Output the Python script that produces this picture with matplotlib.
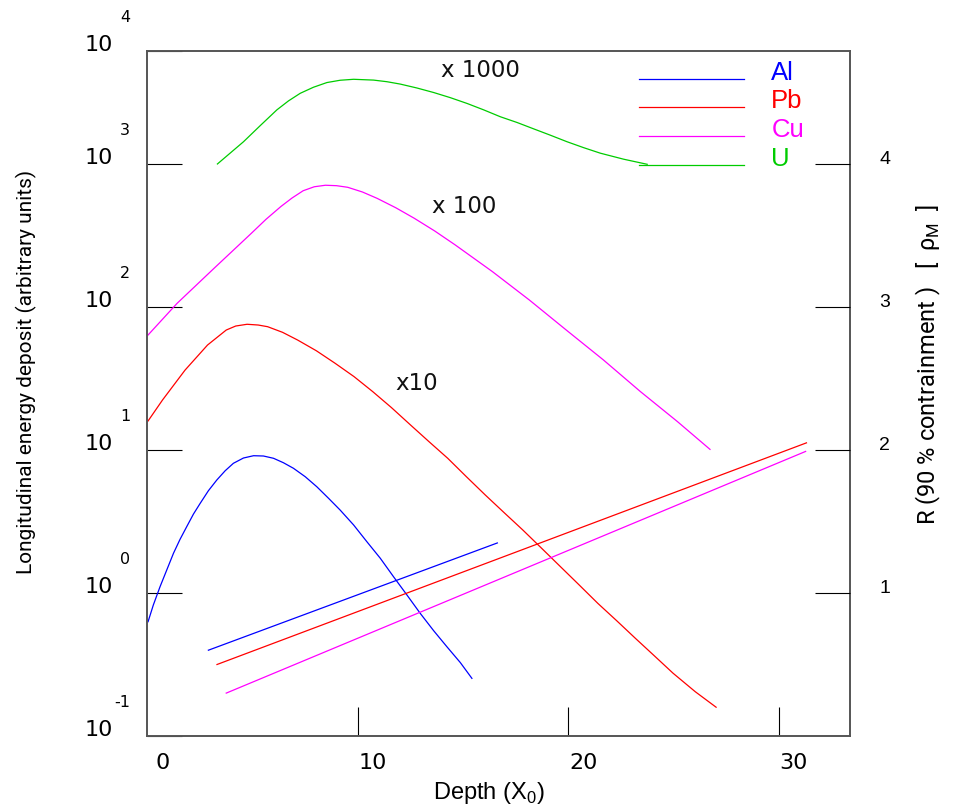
import matplotlib
matplotlib.use('Agg')
import matplotlib.pyplot as plt
import matplotlib.transforms as mtransforms
from matplotlib.ticker import NullLocator

# ---- longitudinal profiles (values before the display scale factor) ----
depth_al = [0.0, 0.25, 0.57, 0.89, 1.21, 1.52, 1.84, 2.16, 2.48, 2.87, 3.27, 3.67, 4.06, 4.54, 5.02,
            5.49, 5.97, 6.44, 6.92, 7.48, 8.03, 8.59, 9.14, 9.78, 10.41, 11.05, 11.68, 12.32, 12.95,
            13.59, 14.22, 14.86, 15.41]
edep_al = [0.630, 0.824, 1.107, 1.449, 1.897, 2.371, 2.911, 3.565, 4.236, 5.188, 6.166, 7.161, 8.072,
           8.790, 9.120, 9.078, 8.750, 8.147, 7.447, 6.501, 5.534, 4.592, 3.802, 2.992, 2.286, 1.750,
           1.300, 0.968, 0.721, 0.545, 0.421, 0.326, 0.253]

depth_pb = [0.0, 0.69, 1.76, 2.83, 3.72, 4.17, 4.71, 5.24, 5.69, 6.40, 7.12, 8.01, 8.90, 9.80, 10.69,
            11.58, 12.48, 13.37, 14.26, 15.15, 16.05, 16.94, 17.83, 18.72, 19.62, 20.51, 21.40, 22.30,
            23.19, 24.08, 24.98, 26.04, 27.03]
edep_pb = [1.596, 2.239, 3.62, 5.42, 6.90, 7.36, 7.57, 7.48, 7.28, 6.65, 5.87, 4.94, 4.04, 3.26, 2.56,
           1.98, 1.50, 1.143, 0.875, 0.650, 0.484, 0.365, 0.276, 0.206, 0.153, 0.114, 0.0847, 0.0640,
           0.0482, 0.0365, 0.0275, 0.0204, 0.0159]

depth_cu = [0.0, 1.38, 3.15, 4.91, 5.61, 6.32, 6.85, 7.38, 7.91, 8.44, 8.97, 9.50, 10.20, 10.90, 11.79,
            12.67, 13.64, 14.61, 16.38, 18.14, 19.90, 21.67, 23.43, 25.19, 26.74]
edep_cu = [0.637, 1.06, 1.87, 3.27, 4.10, 5.04, 5.78, 6.50, 6.93, 7.10, 7.05, 6.87, 6.37, 5.75, 4.94,
           4.17, 3.40, 2.72, 1.77, 1.12, 0.690, 0.426, 0.256, 0.158, 0.101]

depth_u = [3.30, 4.54, 5.33, 6.13, 6.68, 7.24, 7.87, 8.51, 9.14, 9.78, 10.73, 11.37, 12.0, 12.79, 13.59,
           14.38, 15.18, 15.97, 16.76, 17.56, 18.35, 19.14, 19.94, 20.73, 21.52, 22.63, 23.75]
edep_u = [1.00, 1.43, 1.85, 2.39, 2.76, 3.12, 3.44, 3.71, 3.85, 3.91, 3.86, 3.76, 3.62, 3.40, 3.16,
          2.91, 2.65, 2.39, 2.14, 1.95, 1.76, 1.59, 1.43, 1.30, 1.19, 1.08, 0.995]

materials = ['Al', 'Pb', 'Cu', 'U']
colors = ['#0000ff', '#ff0000', '#ff00ff', '#00cc00']
scale_factors = [1, 10, 100, 1000]
scale_labels = ['', 'x10', 'x 100', 'x 1000']
scale_label_pos = [None, (12.76, 29.0), (15.05, 508.0), (15.81, 4508.0)]

# ---- 90% containment radius R (in Moliere radii), right axis ----
r_depth_al = [2.87, 16.62]
r_al = [0.60, 1.35]
r_depth_pb = [3.28, 31.33]
r_pb = [0.50, 2.05]
r_depth_cu = [3.72, 31.29]
r_cu = [0.30, 1.99]

# axis ticks
x_ticks = [0, 10, 20, 30]
y_top = 10 ** 3.792
y_ticks = [0.1, 1, 10, 100, 1000, y_top]
y_exps = ['-1', '0', '1', '2', '3', '4']
r_ticks = [1, 2, 3, 4]

fig = plt.figure(figsize=(9.59, 8.05), dpi=100)
ax = fig.add_axes([0.1533, 0.0857, 0.7330, 0.8513])
ax.set_yscale('log')
ax.set_xlim(-0.05, 33.4)
ax.set_ylim(0.1, y_top)

profiles = [(depth_al, edep_al), (depth_pb, edep_pb), (depth_cu, edep_cu), (depth_u, edep_u)]
handles = []
for (d, e), c, s in zip(profiles, colors, scale_factors):
    h, = ax.plot(d, [v * s for v in e], color=c, lw=0.9)
    handles.append(h)

for lab, pos in zip(scale_labels, scale_label_pos):
    if pos is None:
        continue
    ax.text(pos[0], pos[1], lab, fontsize=16.5, ha='center', va='center', color='#111111')

# spines
for s in ax.spines.values():
    s.set_color('#555555')
    s.set_linewidth(1.4)

# left axis ticks
ax.yaxis.set_minor_locator(NullLocator())
ax.set_yticks(y_ticks, labels=['10'] * len(y_ticks))
ax.tick_params(axis='y', which='major', direction='in', length=25, width=0.8,
               color='black', pad=24.5, labelsize=16, right=False)
plt.setp(ax.get_yticklabels(), va='baseline')
for v, e in zip(y_ticks, y_exps):
    ax.annotate(e, xy=(0, v), xycoords=('axes fraction', 'data'),
                xytext=(-12.2, 23.8), textcoords='offset points',
                ha='right', va='center', fontsize=11.5, annotation_clip=False)

# bottom axis ticks
ax.set_xticks(x_ticks, labels=[str(t) for t in x_ticks])
ax.tick_params(axis='x', direction='in', length=21, width=0.8, color='black',
               pad=12, labelsize=16, top=False)
ax.xaxis.get_major_ticks()[0].tick1line.set_visible(False)
shift = mtransforms.ScaledTranslation(0.15, 0, fig.dpi_scale_trans)
for lab in ax.get_xticklabels():
    lab.set_transform(lab.get_transform() + shift)

ax.set_xlabel('Depth (X$_\\mathregular{0}$)', fontsize=17, family='Liberation Sans')
ax.xaxis.label.set_va('center')
ax.xaxis.set_label_coords(0.4865, -0.083)

ax.set_ylabel('Longitudinal energy deposit (arbitrary units)', fontsize=15, family='Roboto')
ax.yaxis.label.set_va('center')
ax.yaxis.set_label_coords(-0.1721, 0.5312)

# right axis: containment radius
ax2 = ax.twinx()
ax2.set_ylim(0.0, 4.792)
for s in ax2.spines.values():
    s.set_visible(False)
ax2.plot(r_depth_al, r_al, color=colors[0], lw=0.9)
ax2.plot(r_depth_pb, r_pb, color=colors[1], lw=0.9)
ax2.plot(r_depth_cu, r_cu, color=colors[2], lw=0.9)
ax2.set_yticks(r_ticks, labels=[str(t) for t in r_ticks])
ax2.tick_params(axis='y', direction='in', length=25, width=0.8, color='black',
                pad=21, labelsize=14, left=False, labelfontfamily='Liberation Sans')
plt.setp(ax2.get_yticklabels(), va='baseline')
ax2.set_ylabel('R (90 % contrainment )   [  \u03c1$_\\mathregular{M}$  ]', fontsize=17,
               family='Roboto', rotation=90)
ax2.yaxis.label.set_va('center')
ax2.yaxis.set_label_coords(1.111, 0.5414)

# legend
leg = ax.legend(handles, materials, loc='upper left', bbox_to_anchor=(0.6999, 0.9736),
                frameon=False, handlelength=4.1, handletextpad=1.05, labelspacing=0.18,
                borderpad=0, borderaxespad=0, labelcolor='linecolor',
                prop={'family': 'Liberation Sans', 'size': 18.5})
lift = mtransforms.ScaledTranslation(0, 0.08, fig.dpi_scale_trans)
for t in leg.get_texts():
    t.set_transform(t.get_transform() + lift)

fig.savefig('out.png', dpi=100)
